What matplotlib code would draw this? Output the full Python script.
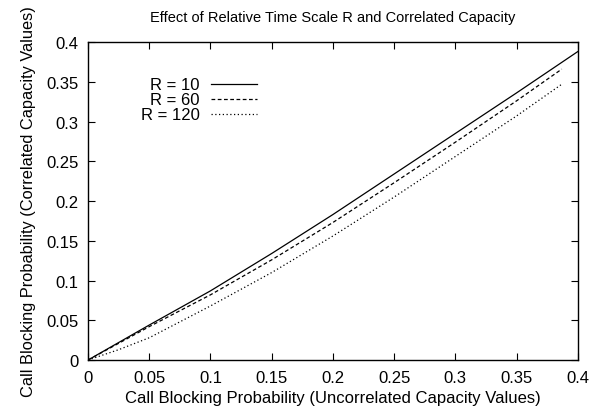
import numpy as np
import matplotlib
matplotlib.use("Agg")
import matplotlib.pyplot as plt

plt.rcParams['font.family'] = ['Liberation Sans', 'DejaVu Sans']

# uncorrelated blocking probability (x) vs correlated (y)
x_r10 = [0, 0.025, 0.05, 0.1, 0.15, 0.2, 0.25, 0.3, 0.35, 0.4]
y_r10 = [0, 0.022, 0.044, 0.087, 0.134, 0.183, 0.234, 0.285, 0.336, 0.388]

x_r60 = [0, 0.025, 0.05, 0.1, 0.15, 0.2, 0.25, 0.3, 0.35, 0.387]
y_r60 = [0, 0.021, 0.042, 0.082, 0.126, 0.173, 0.223, 0.274, 0.326, 0.366]

x_r120 = [0, 0.025, 0.05, 0.1, 0.15, 0.2, 0.25, 0.3, 0.35, 0.387]
y_r120 = [0, 0.013, 0.028, 0.068, 0.110, 0.156, 0.205, 0.256, 0.307, 0.347]

ticks = [0, 0.05, 0.1, 0.15, 0.2, 0.25, 0.3, 0.35, 0.4]
tick_labels = ['0', '0.05', '0.1', '0.15', '0.2', '0.25', '0.3', '0.35', '0.4']

fig = plt.figure(figsize=(5.95, 4.10), dpi=100)
ax = fig.add_axes([0.148, 0.1195, 0.823, 0.7755])

ax.plot(x_r10, y_r10, color='black', lw=0.9, ls='-', label='R = 10')
ax.plot(x_r60, y_r60, color='black', lw=0.9, ls=(0, (3, 2)), label='R = 60')
ax.plot(x_r120, y_r120, color='black', lw=0.9, ls=(0, (1, 2)), label='R = 120')

ax.set_xlim(0, 0.4)
ax.set_ylim(0, 0.4)
ax.set_xticks(ticks)
ax.set_xticklabels(tick_labels)
ax.set_yticks(ticks)
ax.set_yticklabels(tick_labels)
ax.tick_params(direction='in', length=5, width=0.8, top=True, right=True,
               labelsize=12, pad=7)
for s in ax.spines.values():
    s.set_linewidth(1.0)

ax.set_title('Effect of Relative Time Scale R and Correlated Capacity',
             fontsize=10.5, pad=15)
ax.set_xlabel('Call Blocking Probability (Uncorrelated Capacity Values)',
              fontsize=12, labelpad=4)
ax.set_ylabel('Call Blocking Probability (Correlated Capacity Values)',
              fontsize=11.8, labelpad=7)

ax.legend(loc='upper right', bbox_to_anchor=(0.361, 0.915), frameon=False,
          markerfirst=False, fontsize=12, handlelength=2.75,
          labelspacing=0.0, handletextpad=0.66, borderpad=0)

fig.savefig('out.png', dpi=100)
